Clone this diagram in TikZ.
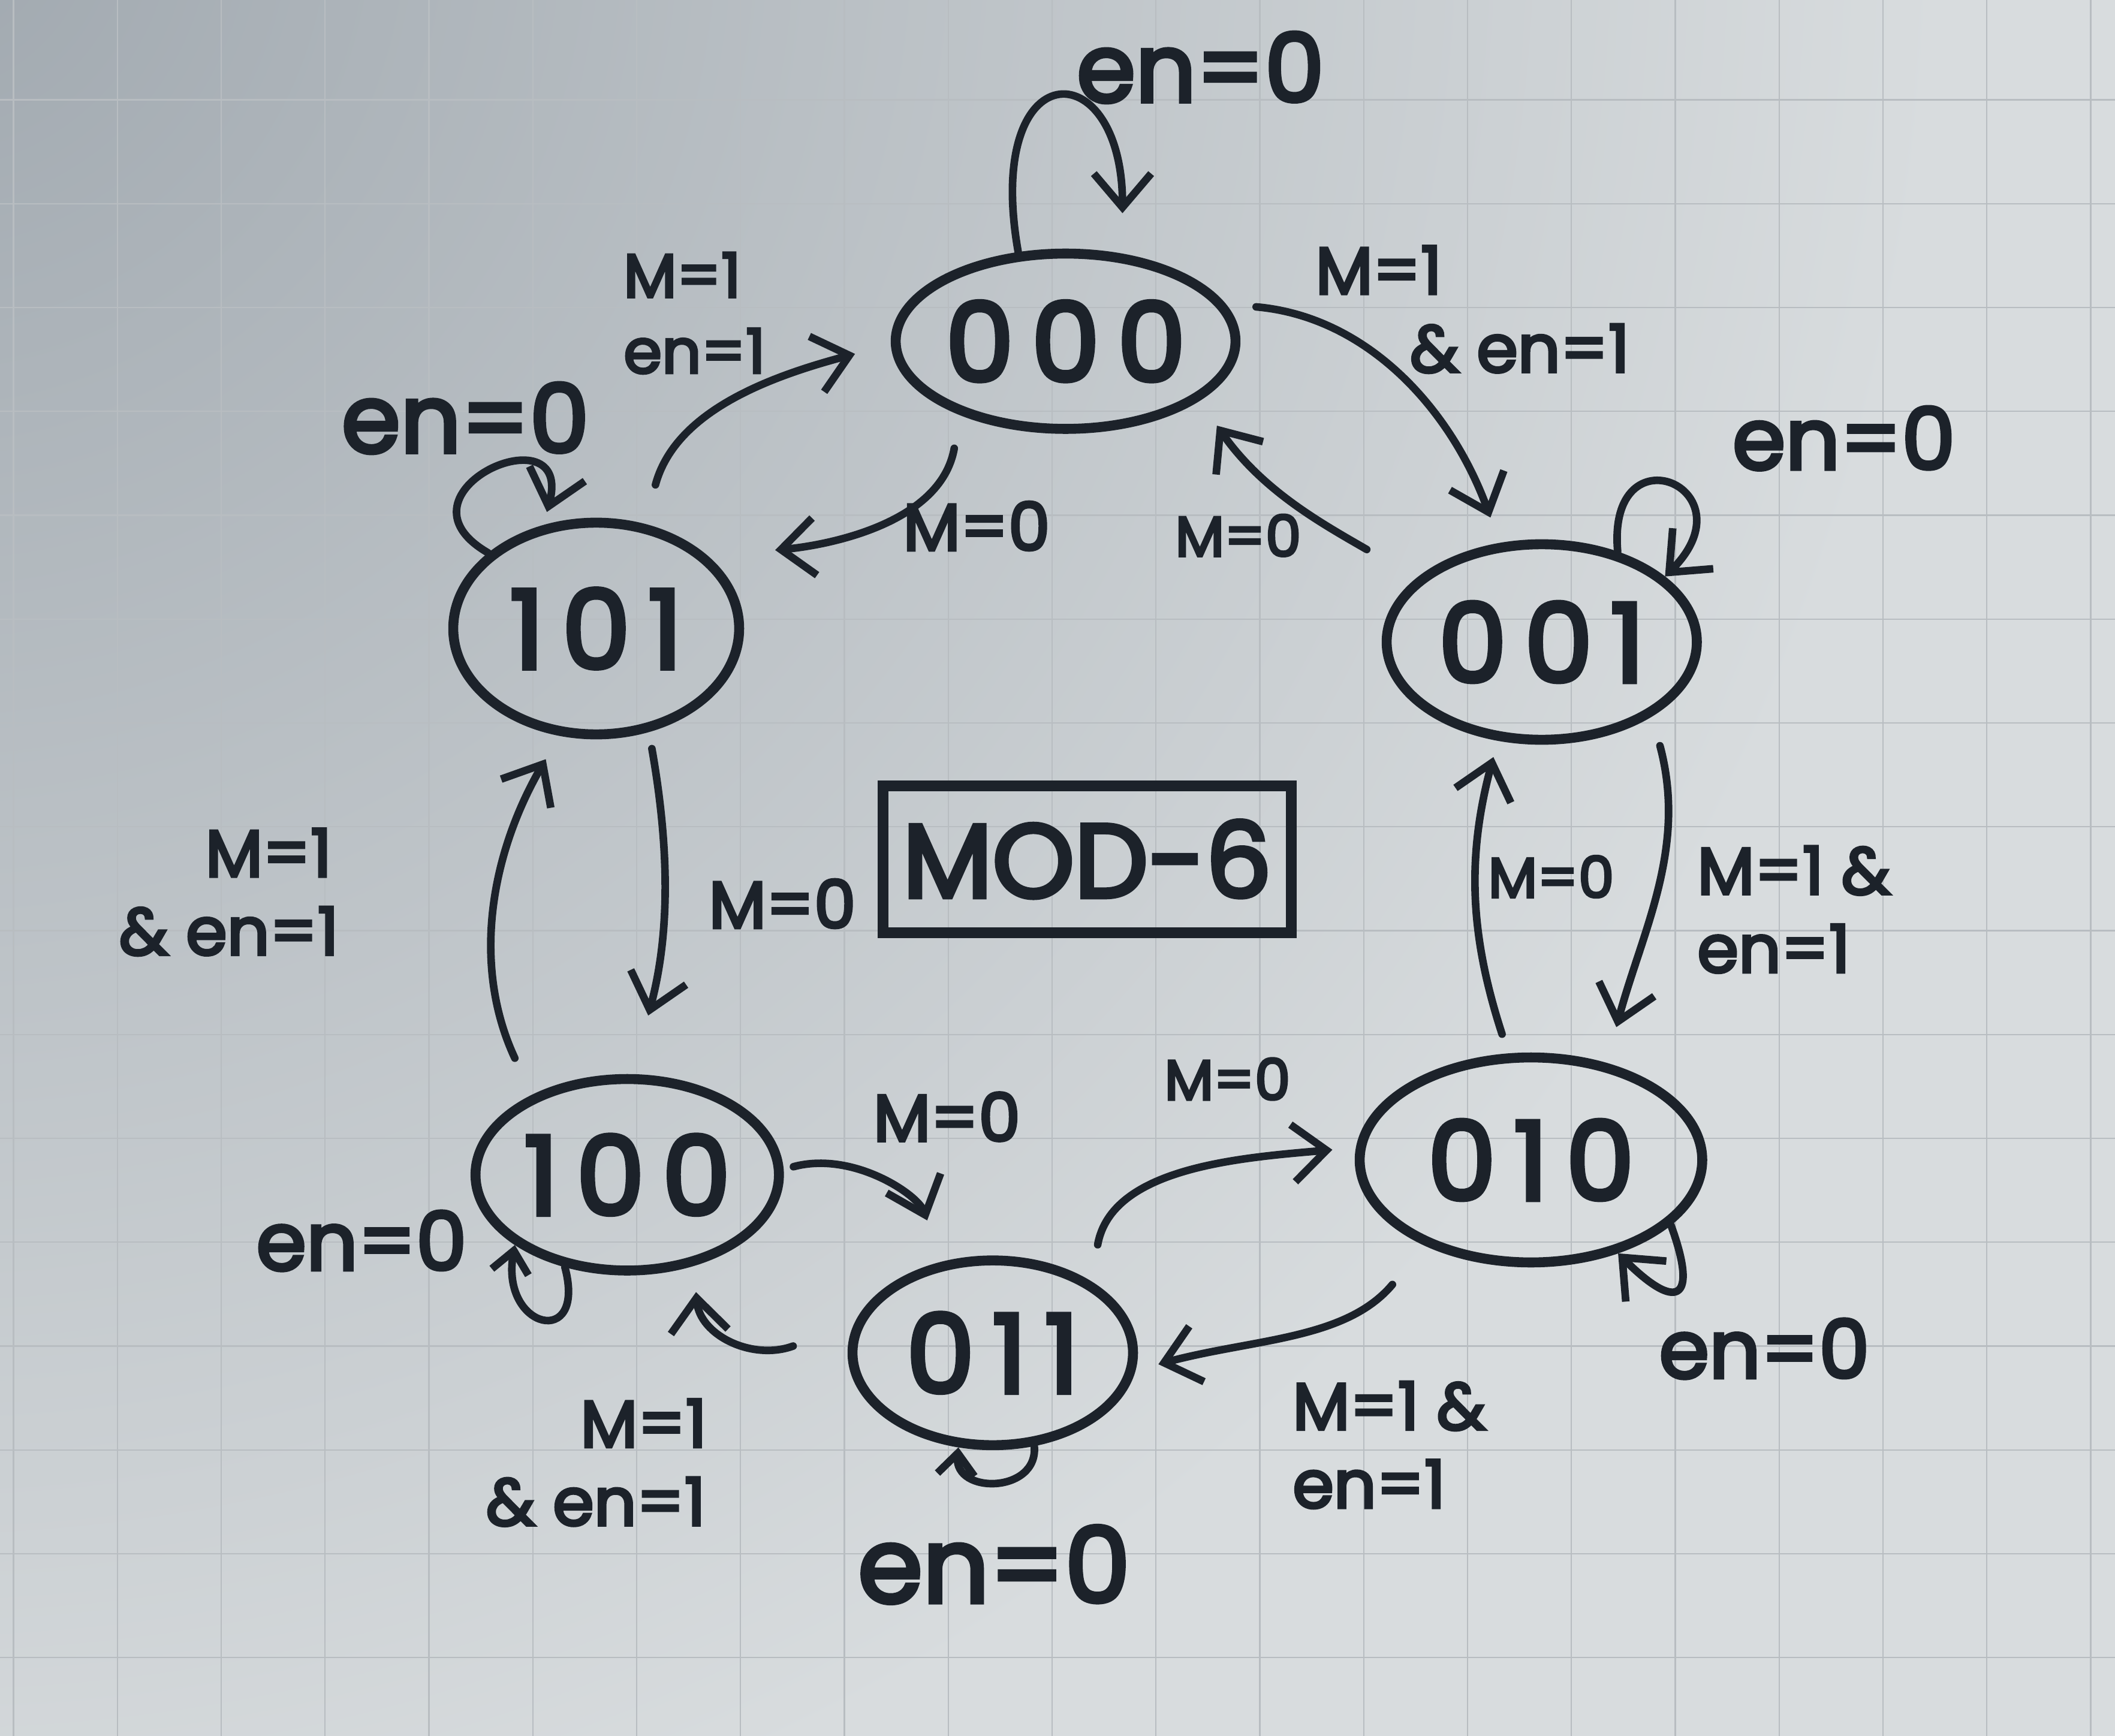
\documentclass[tikz,border=0pt]{standalone}
\usepackage{fontspec}
\setmainfont{Poppins}[FakeBold=4]
\usetikzlibrary{shapes.geometric,arrows.meta}
\definecolor{ink}{RGB}{28,34,42}
\definecolor{paperlight}{RGB}{216,220,222}
\definecolor{paperdark}{RGB}{160,168,175}
\definecolor{gridc}{RGB}{184,189,193}
\newcommand\dg[3]{#1\hspace{0.16em}#2\hspace{0.16em}#3}
\begin{document}
\begin{tikzpicture}[x=0.02cm,y=-0.02cm,
  state/.style={ellipse, draw=ink, line width=4.2pt, inner sep=0pt, text=ink,
    font=\fontsize{46}{50}\selectfont},
  tr/.style={draw=ink, line width=3.2pt, line cap=round, line join=round,
    -{Straight Barb[length=0.5cm,width=0.85cm]}},
  smalltip/.style={-{Straight Barb[length=0.32cm,width=0.55cm]}},
  lab/.style={text=ink, font=\fontsize{28}{33}\selectfont, inner sep=0pt, align=left},
  labs/.style={text=ink, font=\fontsize{24}{28}\selectfont, inner sep=0pt},
  enl/.style={text=ink, font=\fontsize{38}{42}\selectfont, inner sep=0pt},
]
\useasboundingbox (0,0) rectangle (1568,1287);
% paper
\fill[paperlight] (0,0) rectangle (1568,1287);
\begin{scope}
  \clip (0,0) rectangle (1568,1287);
  \shade[inner color=paperdark, outer color=paperlight] (-60,-60) circle (1500);
  \foreach \x in {10,87,...,1568} \draw[gridc, line width=0.6pt] (\x,0) -- (\x,1287);
  \foreach \y in {74,151,...,1287} \draw[gridc, line width=0.6pt] (0,\y) -- (1568,\y);
\end{scope}

% states
\node[state, minimum width=4.88cm, minimum height=2.6cm] (s000) at (790,253) {\dg000};
\node[state, minimum width=4.6cm, minimum height=2.9cm] (s001) at (1143,476) {\dg001};
\node[state, minimum width=5.08cm, minimum height=3.04cm] (s010) at (1135,860) {\dg010};
\node[state, minimum width=4.16cm, minimum height=2.74cm] (s011) at (736,1003) {\dg011};
\node[state, minimum width=4.5cm, minimum height=2.84cm] (s100) at (465,871) {\dg100};
\node[state, minimum width=4.24cm, minimum height=3.14cm] (s101) at (442,466) {\dg101};
\node[draw=ink, line width=4.6pt, minimum width=6.06cm, minimum height=2.18cm, inner sep=0pt,
  text=ink, font=\fontsize{44}{48}\selectfont] (mod) at (806,637) {MOD-6};

% labels
\node[enl, font=\fontsize{40}{44}\selectfont] (e000) at (890,50) {en=0};
\node[lab, anchor=north west] (t01) at (975,182) {M=1\\\hspace*{1.4cm}\& en=1};
\node[labs] (t10) at (918,397) {M=0};
\node[enl, font=\fontsize{36}{40}\selectfont] (e001) at (1367,325) {en=0};
\node[lab, anchor=north west] (t12) at (1258,627) {M=1 \&\\en=1};
\node[labs] (t21) at (1150,650) {M=0};
\node[enl, font=\fontsize{34}{38}\selectfont] (e010) at (1308,1000) {en=0};
\node[lab, anchor=north west] (t23) at (958,1024) {M=1 \&\\en=1};
\node[labs] (t32) at (910,800) {M=0};
\node[enl, font=\fontsize{44}{48}\selectfont] (e011) at (737,1160) {en=0};
\node[lab] (t43) at (702,828) {M=0};
\node[lab, anchor=north west] (t34) at (360,1037) {\hspace*{1.4cm}M=1\\\& en=1};
\node[enl, font=\fontsize{34}{38}\selectfont] (e100) at (268,920) {en=0};
\node[lab, anchor=north west] (t45) at (88,614) {\hspace*{1.28cm}M=1\\\& en=1};
\node[lab] (t54) at (580,670) {M=0};
\node[enl, font=\fontsize{40}{44}\selectfont] (e101) at (345,310) {en=0};
\node[lab, anchor=north west, font=\fontsize{26}{32}\selectfont] (t50) at (462,187) {M=1\\en=1};
\node[lab] (t05) at (724,390) {M=0};

% free ends of the short 011 -> 100 arrow
\coordinate (a34s) at (588,998);
\coordinate (a34e) at (516,958);

% transitions
\draw[tr, shorten >=0.6cm] (s000.118) to[out=100,in=90,looseness=5] (s000.57);
\draw[tr, shorten <=0.45cm, shorten >=0.4cm] (s000.13) to[out=-5,in=110] (s001.113);
\draw[tr, shorten <=0.85cm, shorten >=0.45cm] (s001.153) to[out=150,in=-55] (s000.-24);
\draw[tr] (s001.50) to[out=95,in=45,looseness=6] (s001.28);
\draw[tr, shorten <=0.45cm, shorten >=0.55cm] (s001.-34) to[out=-75,in=75] (s010.52);
\draw[tr, shorten <=0.3cm, shorten >=0.25cm] (s010.102) to[out=108,in=-105] (s001.-114);
\draw[tr] (s010.-25) to[out=-70,in=-45,looseness=3.5] (s010.-47);
\draw[tr, shorten <=0.75cm, shorten >=0.35cm] (s010.219) to[out=-130,in=15] (s011.-7);
\draw[tr, shorten <=0.55cm, shorten >=0.35cm] (s011.36) to[out=80,in=185] (s010.176);
\draw[tr, smalltip] (s011.-66) to[out=-85,in=-95,looseness=1.6] (s011.-110);
\draw[tr, shorten <=0.15cm, shorten >=0.65cm] (s100.2) to[out=15,in=110] (s011.119);
\draw[tr] (a34s) to[out=200,in=-85] (a34e);
\draw[tr, smalltip] (s100.236) to[out=-75,in=-100,looseness=4] (s100.212);
\draw[tr, shorten <=0.6cm, shorten >=0.4cm] (s100.140) to[out=115,in=-120] (s101.-109);
\draw[tr, shorten <=0.25cm, shorten >=0.9cm] (s101.-63) to[out=-80,in=75] (s100.87);
\draw[tr, shorten >=0.2cm] (s101.145) to[out=150,in=75,looseness=5] (s101.117);
\draw[tr, shorten <=0.6cm, shorten >=0.55cm] (s101.65) to[out=75,in=195] (s000.181);
\draw[tr, shorten <=0.5cm, shorten >=1.0cm] (s000.215) to[out=-100,in=5] (s101.33);
\end{tikzpicture}
\end{document}
